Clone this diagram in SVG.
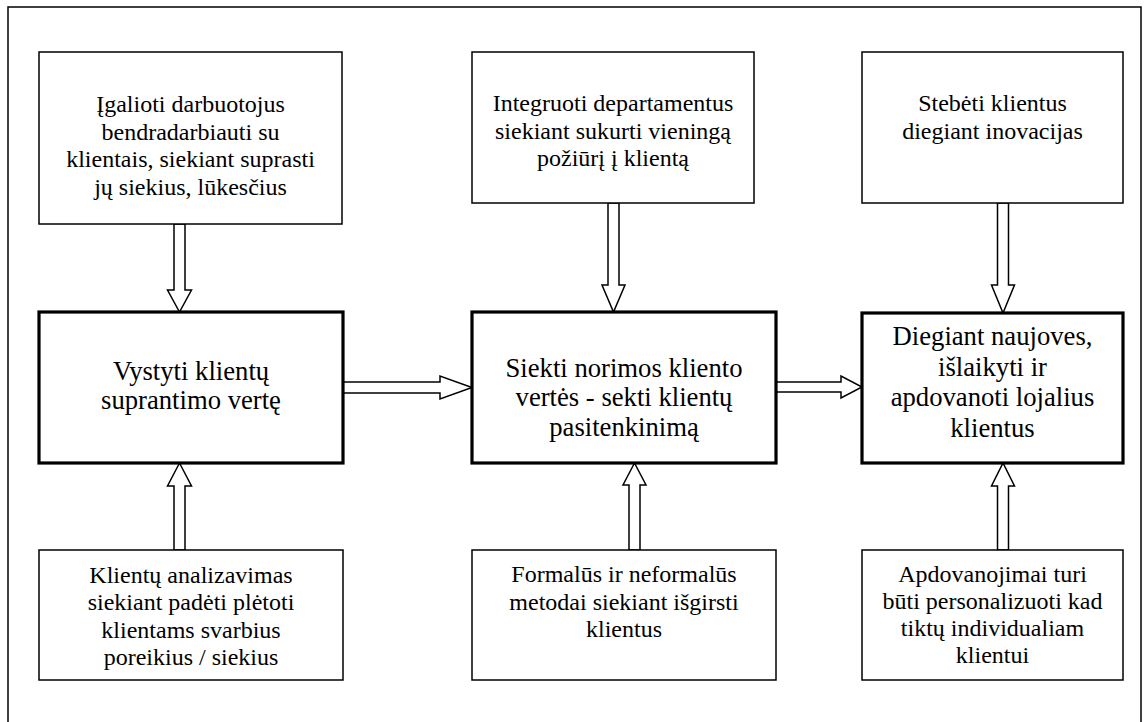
<svg xmlns="http://www.w3.org/2000/svg" width="1146" height="722" viewBox="0 0 1146 722">
<style>
.frame{fill:none;stroke:#000;stroke-width:1.5}
.thin{fill:#fff;stroke:#000;stroke-width:1.5}
.thick{fill:#fff;stroke:#000;stroke-width:3.2}
.arr{fill:#fff;stroke:#000;stroke-width:1.5;stroke-linejoin:miter}
text{font-family:"Liberation Serif","Times New Roman",serif;fill:#000;text-anchor:middle}
.s{font-size:24px}
.l{font-size:26.67px}
</style>
<rect width="1146" height="722" fill="#fff"/>
<rect class="frame" x="8" y="7" width="1133" height="730"/>
<g id="connectors">
<polygon class="arr" points="174,224 185,224 185,290 191.5,290 179.5,312 167.5,290 174,290"/>
<polygon class="arr" points="608,203 619,203 619,285 625,285 613.5,312 602,285 608,285"/>
<polygon class="arr" points="997.5,203 1008.5,203 1008.5,285 1014.5,285 1003,313 991.5,285 997.5,285"/>
<polygon class="arr" points="174,550 185,550 185,486 191.5,486 179.5,463 167.5,486 174,486"/>
<polygon class="arr" points="629,550 640,550 640,485 646,485 634.5,463 623,485 629,485"/>
<polygon class="arr" points="997.5,550 1008.5,550 1008.5,486 1014.5,486 1003,463 991.5,486 997.5,486"/>
<polygon class="arr" points="343,382 440,382 440,376 472,387.5 440,399 440,393 343,393"/>
<polygon class="arr" points="776,382 841,382 841,376 862,387 841,398 841,392 776,392"/>
</g>
<g id="n1">
<rect class="thin" x="39" y="52" width="303" height="172"/>
<text class="s" x="190.5" y="112">Įgalioti darbuotojus</text>
<text class="s" x="190.5" y="139.5">bendradarbiauti su</text>
<text class="s" x="190.5" y="167">klientais, siekiant suprasti</text>
<text class="s" x="190.5" y="194.5">jų siekius, lūkesčius</text>
</g>
<g id="n2">
<rect class="thin" x="472" y="52" width="282" height="151"/>
<text class="s" x="613" y="111">Integruoti departamentus</text>
<text class="s" x="613" y="138.5">siekiant sukurti vieningą</text>
<text class="s" x="613" y="166">požiūrį į klientą</text>
</g>
<g id="n3">
<rect class="thin" x="862" y="52" width="261" height="151"/>
<text class="s" x="992.5" y="111">Stebėti klientus</text>
<text class="s" x="992.5" y="138.5">diegiant inovacijas</text>
</g>
<g id="n4">
<rect class="thick" x="39" y="312" width="304" height="151"/>
<text class="l" x="191" y="379.5">Vystyti klientų</text>
<text class="l" x="191" y="408.5">suprantimo vertę</text>
</g>
<g id="n5">
<rect class="thick" x="472" y="312" width="304" height="151"/>
<text class="l" x="624" y="376.5">Siekti norimos kliento</text>
<text class="l" x="624" y="406">vertės - sekti klientų</text>
<text class="l" x="624" y="435.5">pasitenkinimą</text>
</g>
<g id="n6">
<rect class="thick" x="862" y="313" width="261" height="150"/>
<text class="l" x="992.5" y="345">Diegiant naujoves,</text>
<text class="l" x="992.5" y="375.5">išlaikyti ir</text>
<text class="l" x="992.5" y="406">apdovanoti lojalius</text>
<text class="l" x="992.5" y="436.5">klientus</text>
</g>
<g id="n7">
<rect class="thin" x="39" y="550" width="304" height="130"/>
<text class="s" x="191" y="582.5">Klientų analizavimas</text>
<text class="s" x="191" y="610">siekiant padėti plėtoti</text>
<text class="s" x="191" y="637.5">klientams svarbius</text>
<text class="s" x="191" y="665">poreikius / siekius</text>
</g>
<g id="n8">
<rect class="thin" x="472" y="550" width="304" height="130"/>
<text class="s" x="624" y="582">Formalūs ir neformalūs</text>
<text class="s" x="624" y="609.5">metodai siekiant išgirsti</text>
<text class="s" x="624" y="637">klientus</text>
</g>
<g id="n9">
<rect class="thin" x="862" y="550" width="261" height="130"/>
<text class="s" x="992.5" y="581.5">Apdovanojimai turi</text>
<text class="s" x="992.5" y="608.5">būti personalizuoti kad</text>
<text class="s" x="992.5" y="636">tiktų individualiam</text>
<text class="s" x="992.5" y="663">klientui</text>
</g>
</svg>
